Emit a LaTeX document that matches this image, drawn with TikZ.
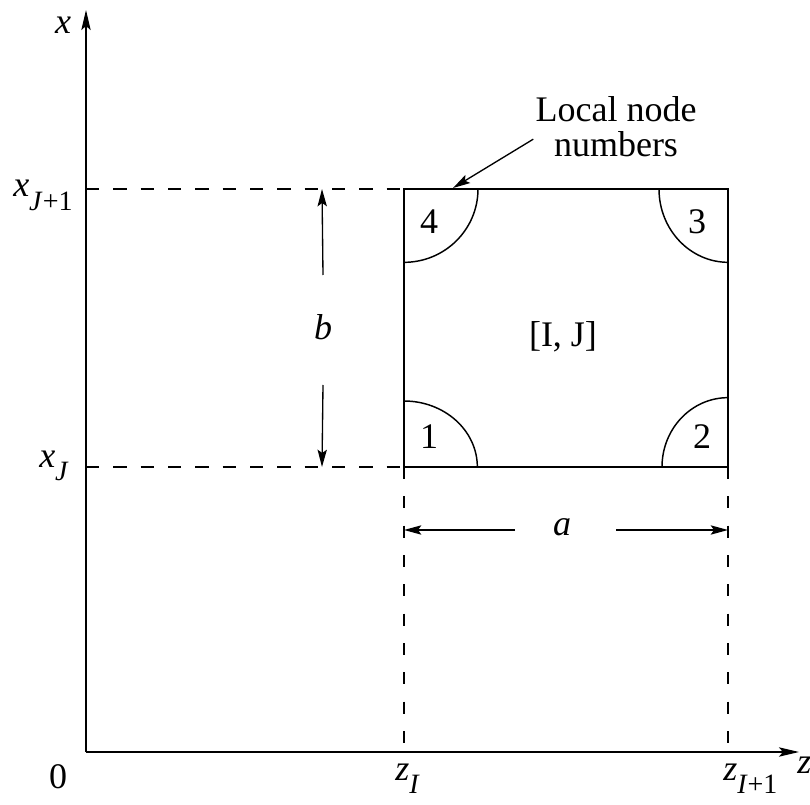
\documentclass[tikz,border=0pt]{standalone}
\usepackage{fontspec}
\setmainfont{Liberation Serif}
\newfontfamily\lbserif{Liberation Serif}
\usetikzlibrary{arrows.meta}
\newcommand\lbsub[1]{\raisebox{-10pt}{\fontsize{21}{21}\selectfont #1}}
\begin{document}
\begin{tikzpicture}[x=0.75pt,y=-0.75pt,
  every node/.style={font=\lbserif\fontsize{27}{26.25}\selectfont, inner sep=0pt},
  axis/.style={line width=1.3pt, -{Stealth[length=15pt,width=7pt,inset=3pt]}},
  arr/.style={line width=1pt, -{Stealth[length=13pt,width=7pt,inset=2.5pt]}},
  edge/.style={line width=1.1pt},
  dashline/.style={line width=1pt, dash pattern=on 10pt off 10.5pt},
  vdash/.style={line width=1pt, dash pattern=on 9pt off 13pt}]
\useasboundingbox (0,0) rectangle (810,805);
% coordinates
\coordinate (O) at (86,752);
\coordinate (xtop) at (86,10);
\coordinate (zend) at (799,752);
\coordinate (BL) at (404,467);
\coordinate (BR) at (728,467);
\coordinate (TR) at (728,189);
\coordinate (TL) at (404,189);
\coordinate (yJ1) at (86,189);
\coordinate (yJ) at (86,467);
\coordinate (zI) at (404,752);
\coordinate (zI1) at (728,752);
\coordinate (bt) at (322,189);
\coordinate (bb) at (322,467);
\coordinate (al) at (404,530);
\coordinate (ar) at (728,530);
\coordinate (lt) at (453,188);
% axes
\draw[axis] (O) -- (xtop);
\draw[axis] (O) -- (zend);
% dashed guides
\draw[dashline] (yJ1) -- (TL);
\draw[dashline] (yJ) -- (BL);
\draw[vdash] (BL) -- (zI);
\draw[vdash] (BR) -- (zI1);
% element
\draw[edge] (BL) -- (BR) -- (TR) -- (TL) -- cycle;
\draw[edge] (404,401) arc[start angle=90, end angle=0, x radius=55pt, y radius=49.5pt];
\draw[edge] (662,467) arc[start angle=180, end angle=90, x radius=49.5pt, y radius=52pt];
\draw[edge] (659,189) arc[start angle=180, end angle=270, x radius=52pt, y radius=55pt];
\draw[edge] (478,189) arc[start angle=0, end angle=-90, x radius=55.5pt, y radius=55pt];
% labels
\node (xl) at (63,25) {\textit{x}};
\node[anchor=base west] (xj1) at (13,197) {\textit{x}\lbsub{\textit{J}+1}};
\node[anchor=base west] (xj) at (39,467) {\textit{x}\lbsub{\textit{J}}};
\node (zero) at (58,777) {0};
\node[anchor=base west] (zil) at (395,780) {\textit{z}\lbsub{\textit{I}}};
\node[anchor=base west] (zi1l) at (723,780) {\textit{z}\lbsub{\textit{I}+1}};
\node[anchor=base west] (zl) at (797,773) {\textit{z}};
\node (b) at (323,327) {\textit{b}};
\node (a) at (562,527) {\textit{a}};
\node (IJ) at (563,337) {[I, J]};
\node (n1) at (429,437) {1};
\node (n2) at (702,437) {2};
\node (n3) at (697,222) {3};
\node (n4) at (429,222) {4};
\node[align=center, anchor=base] (lnn) at (616,157) {Local node\\numbers};
% dimension arrows
\draw[arr] (b) ++(0,-52) -- (bt);
\draw[arr] (b) ++(0,58) -- (bb);
\draw[arr] (a) ++(-47,3) -- (al);
\draw[arr] (a) ++(54,3) -- (ar);
\draw[arr] ([shift={(-2,12)}]lnn.west) -- (lt);
\end{tikzpicture}
\end{document}
